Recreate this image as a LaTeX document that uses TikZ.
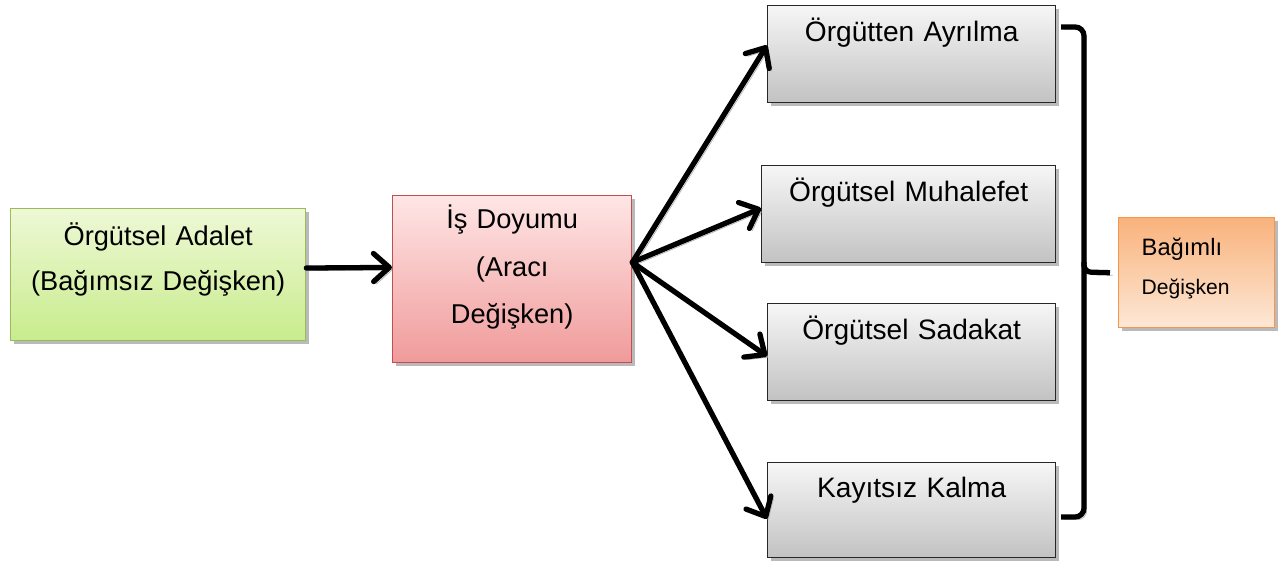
\documentclass[tikz,border=0pt]{standalone}
\usepackage{fontspec}
\setmainfont{Liberation Sans}
\usetikzlibrary{arrows.meta,calc,shadows}
\definecolor{adaletTop}{HTML}{EEF8D6}
\definecolor{adaletBot}{HTML}{C8EC8C}
\definecolor{adaletLine}{HTML}{9BBB59}
\definecolor{doyumTop}{HTML}{FFE6E6}
\definecolor{doyumBot}{HTML}{F09A9A}
\definecolor{doyumLine}{HTML}{C0504D}
\definecolor{sonucTop}{HTML}{F6F6F6}
\definecolor{sonucBot}{HTML}{C2C2C2}
\definecolor{bagimliTop}{HTML}{F9B27C}
\definecolor{bagimliBot}{HTML}{FDE8D6}
\definecolor{bagimliLine}{HTML}{F79646}

\begin{document}
\begin{tikzpicture}[x=0.02cm, y=-0.02cm,
        varbox/.style={draw, inner sep=0pt, anchor=north west, line width=0.8pt,
          align=center, font=\fontsize{15.5}{26}\selectfont,
          drop shadow={shadow xshift=2pt, shadow yshift=-2pt, fill=black!45, opacity=0.6}},
        sonuc/.style={varbox, draw=black!85, top color=sonucTop, bottom color=sonucBot,
          text width=5.76cm, text height=0.72cm, text depth=1.22cm,
          font=\fontsize{16}{26}\selectfont},
        flow/.style={->, line width=3pt, line join=round, line cap=round,
          preaction={draw=black!30, transform canvas={xshift=1.5pt, yshift=-1.5pt}}},
        >={Straight Barb[length=9pt, width=16pt, line cap=round, line join=round]}
      ]
        \useasboundingbox (0,0) rectangle (1279,565);

        % Variables
        \node[varbox, draw=adaletLine, top color=adaletTop, bottom color=adaletBot,
          text width=5.9cm, text height=0.74cm, text depth=1.9cm, font=\fontsize{15.5}{25.5}\selectfont]
          (adalet) at (10,208) {Örgütsel Adalet\\(Bağımsız Değişken)};
        \node[varbox, draw=doyumLine, top color=doyumTop, bottom color=doyumBot,
          text width=4.78cm, text height=0.66cm, text depth=2.68cm, font=\fontsize{15.5}{27}\selectfont]
          (doyum) at (392,195) {İş Doyumu\\(Aracı\\Değişken)};

        % Outcomes
        \node[sonuc] (ayrilma) at (767,5) {Örgütten Ayrılma};
        \node[sonuc, text width=5.88cm] (muhalefet) at (761,165) {Örgütsel Muhalefet};
        \node[sonuc] (sadakat) at (767,303) {Örgütsel Sadakat};
        \node[sonuc, text height=0.7cm, text depth=1.2cm] (kayitsiz) at (767,462) {Kayıtsız Kalma};

        \node[varbox, draw=bagimliLine, top color=bagimliTop, bottom color=bagimliBot,
          align=left, inner xsep=0.46cm, text width=2.2cm, text height=0.76cm, text depth=1.44cm,
          font=\fontsize{12}{22}\selectfont]
          (bagimli) at (1118,217) {{\fontsize{13.5}{22}\selectfont Bağımlı}\\Değişken};

        % Arrows
        \coordinate (hub) at ($(doyum.north east)!0.4!(doyum.south east)$);
        \draw[flow] ($(adalet.north east)!0.45!(adalet.south east)$)
          -- ($(doyum.north west)!0.43!(doyum.south west)$);
        \draw[flow] (hub) -- ($(ayrilma.north west)!0.41!(ayrilma.south west)$);
        \draw[flow] (hub) -- ($(muhalefet.north west)!0.44!(muhalefet.south west)$);
        \draw[flow] (hub) -- ($(sadakat.north west)!0.54!(sadakat.south west)$);
        \draw[flow] (hub) -- ($(kayitsiz.north west)!0.59!(kayitsiz.south west)$);

        % Brace
        \coordinate (braceTip) at ($(bagimli.west)+(-8,0)$);
        \draw[line width=3pt, rounded corners=5pt,
          preaction={draw=black!30, transform canvas={xshift=1.5pt, yshift=-1.5pt}}]
          (1061,27) -- (1084,27) -- (1084,517) -- (1061,517);
        \draw[line width=3pt, rounded corners=4pt,
          preaction={draw=black!30, transform canvas={xshift=1.5pt, yshift=-1.5pt}}]
          (1084,262) -- (1084,272) -- (braceTip);
      \end{tikzpicture}
\end{document}
